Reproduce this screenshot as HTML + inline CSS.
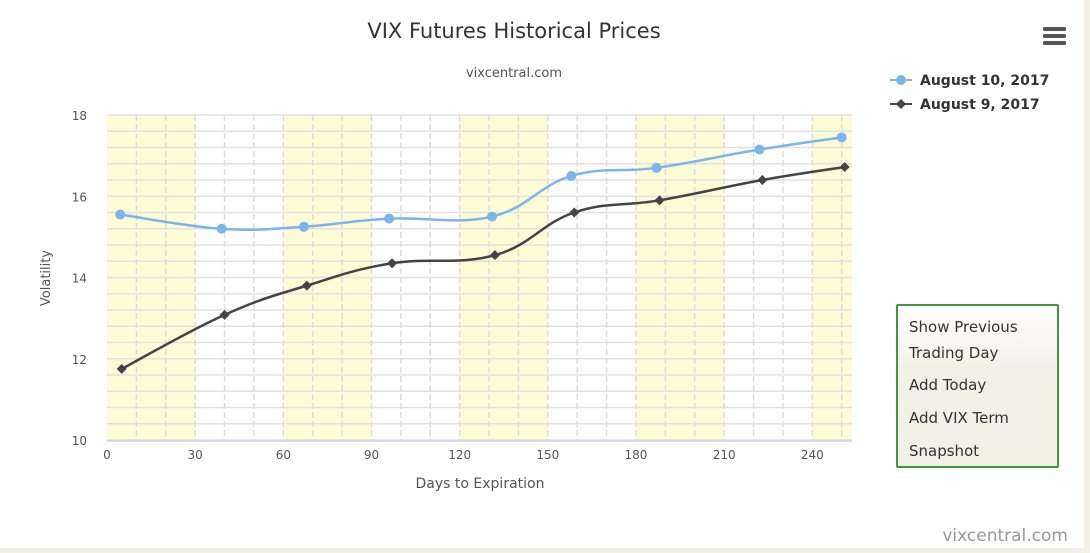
<!DOCTYPE html>
<html><head><meta charset="utf-8"><style>
html,body{margin:0;padding:0;}
body{width:1090px;height:553px;background:#f3f1e6;position:relative;overflow:hidden;font-family:"DejaVu Sans","Liberation Sans",sans-serif;}
#card{position:absolute;left:0;top:0;width:1084px;height:548px;background:#fff;}
#btnbox{position:absolute;left:896px;top:304px;width:163px;height:164px;border:2px solid #3c9a3c;border-radius:2px;background:linear-gradient(#fff,#f3f0e5 40%,#f3f0e5);box-sizing:border-box;padding:8px 0 0 11px;}
#btnbox div{font-size:15px;color:#333;line-height:26px;cursor:pointer;}
svg text{font-family:"DejaVu Sans","Liberation Sans",sans-serif;}
</style></head><body>
<div id="card">
<svg id="chart" width="1090" height="553" style="position:absolute;left:0;top:0">
<text x="514" y="38" text-anchor="middle" font-size="21" fill="#333">VIX Futures Historical Prices</text>
<text x="514" y="77" text-anchor="middle" font-size="13" fill="#555">vixcentral.com</text>
<g>
<rect x="1043" y="27" width="23" height="4" rx="1.5" fill="#555"/><rect x="1043" y="34" width="23" height="4" rx="1.5" fill="#555"/><rect x="1043" y="41" width="23" height="4" rx="1.5" fill="#555"/>
</g>
<g id="bands"></g><g id="grid"></g><g id="axes"></g><g id="series"></g>
<text x="50" y="278" transform="rotate(-90 50 278)" text-anchor="middle" font-size="13" fill="#555">Volatility</text>
<text x="480" y="488" text-anchor="middle" font-size="14" fill="#555">Days to Expiration</text>
<g>
<line x1="890" y1="80" x2="912" y2="80" stroke="#7cb5ec" stroke-width="2"/><circle cx="901" cy="80" r="5" fill="#7cb5ec"/>
<text x="920" y="85" font-size="14" font-weight="bold" fill="#333">August 10, 2017</text></g>
<g>
<line x1="890" y1="104" x2="912" y2="104" stroke="#434348" stroke-width="2"/><path d="M901 99 L906 104 L901 109 L896 104Z" fill="#434348"/>
<text x="920" y="109" font-size="14" font-weight="bold" fill="#333">August 9, 2017</text></g>
<text x="1068" y="541" text-anchor="end" font-size="17" fill="#999">vixcentral.com</text>
</svg>
<div id="btnbox">
<div>Show Previous<br>Trading Day</div>
<div style="margin-top:6px">Add Today</div>
<div style="margin-top:7px">Add VIX Term</div>
<div style="margin-top:7px">Snapshot</div>
</div>
</div>
<script>
const xTicks=[0,30,60,90,120,150,180,210,240];
const yTicks=[10,12,14,16,18];
const daysAug10=[4.5,39,67,96,131,158,187,222,250];
const valsAug10=[15.55,15.2,15.25,15.45,15.5,16.5,16.7,17.15,17.45];
const daysAug9=[5,40,68,97,132,159,188,223,251];
const valsAug9=[11.75,13.08,13.8,14.35,14.55,15.6,15.9,16.4,16.72];
const NS='http://www.w3.org/2000/svg';
const X0=107,X1=852,XMAX=253.5,Y0=440,Y1=115,YMIN=10,YMAX=18;
const sx=d=>X0+(d/XMAX)*(X1-X0);
const sy=v=>Y0-(v-YMIN)/(YMAX-YMIN)*(Y0-Y1);
function mk(t,a,p){const e=document.createElementNS(NS,t);for(const k in a)e.setAttribute(k,a[k]);p.appendChild(e);return e;}
const bands=document.getElementById('bands'),grid=document.getElementById('grid'),axes=document.getElementById('axes'),series=document.getElementById('series');
for(let d=0;d<XMAX;d+=60){const r=mk('rect',{x:sx(d),y:Y1,width:sx(Math.min(d+30,XMAX))-sx(d),height:Y0-Y1,fill:'#fefcd5'},bands);

}
for(let v=YMIN;v<=YMAX+0.001;v+=0.4){const l=mk('line',{x1:X0,x2:X1,y1:sy(v),y2:sy(v),stroke:'#e2e2e2','stroke-width':1.5},grid);

}
for(let d=10;d<XMAX;d+=10){const l=mk('line',{x1:sx(d),x2:sx(d),y1:Y1,y2:Y0,stroke:'#dcdcdc','stroke-width':1.5,'stroke-dasharray':'6,3'},grid);

}
mk('line',{x1:X0,x2:X1,y1:Y0+1,y2:Y0+1,stroke:'#ccd6eb','stroke-width':1.5},axes);
xTicks.forEach(t=>{const tx=mk('text',{x:sx(t),y:Y0+19,'text-anchor':'middle','font-size':12,fill:'#555'},axes);tx.textContent=t;

});
yTicks.forEach(t=>{const tx=mk('text',{x:87,y:sy(t)+5,'text-anchor':'end','font-size':12,fill:'#555'},axes);tx.textContent=t;

});
function spline(xs,ys){const p=xs.map((x,i)=>[sx(x),sy(ys[i])]);let d='M'+p[0][0]+' '+p[0][1];
for(let i=0;i<p.length-1;i++){const a=p[Math.max(i-1,0)],b=p[i],c=p[i+1],e=p[Math.min(i+2,p.length-1)];const k=0.2;
d+=` C${b[0]+(c[0]-a[0])*k} ${b[1]+(c[1]-a[1])*k} ${c[0]-(e[0]-b[0])*k} ${c[1]-(e[1]-b[1])*k} ${c[0]} ${c[1]}`;}return d;}
function draw(xs,ys,col,name,diamond){const pth=mk('path',{d:spline(xs,ys),fill:'none',stroke:col,'stroke-width':2.5},series);


xs.forEach((x,i)=>{const cx=sx(x),cy=sy(ys[i]);let m;
if(diamond)m=mk('path',{d:`M${cx} ${cy-5}L${cx+5} ${cy}L${cx} ${cy+5}L${cx-5} ${cy}Z`,fill:col},series);
else m=mk('circle',{cx:cx,cy:cy,r:5,fill:col},series);

});}
draw(daysAug10,valsAug10,'#7cb5ec','aug10',false);
draw(daysAug9,valsAug9,'#434348','aug9',true);
</script>
</body></html>
